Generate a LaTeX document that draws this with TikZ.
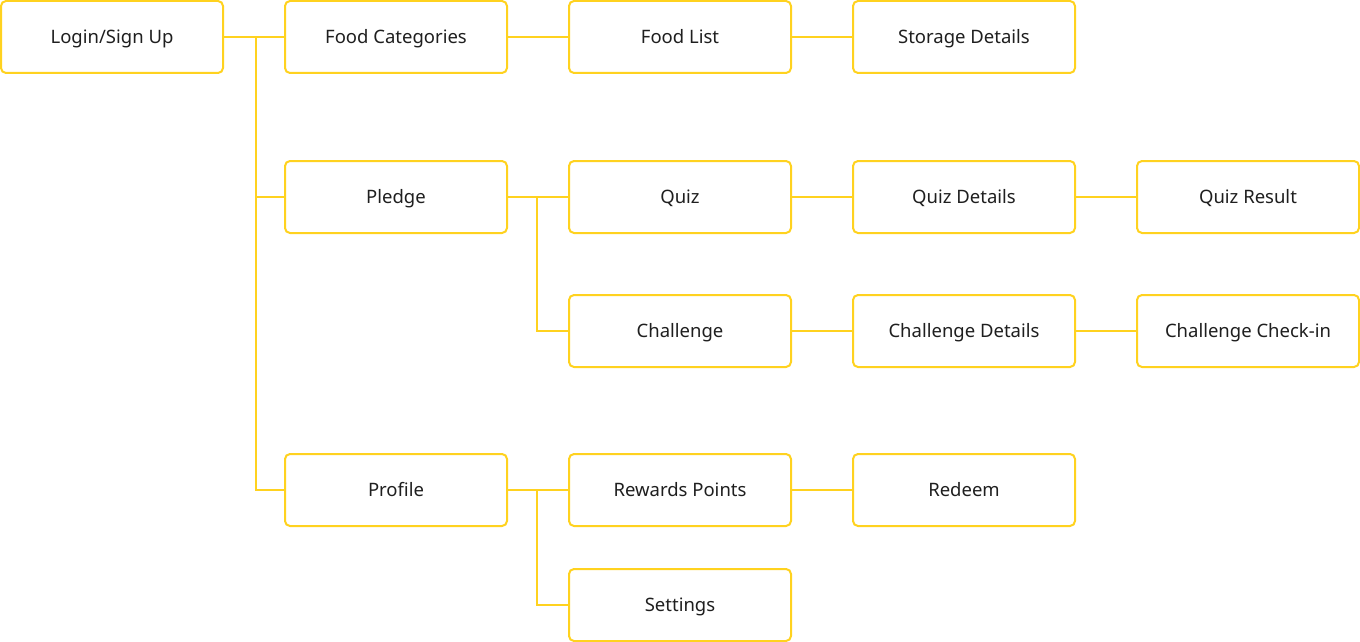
\documentclass[tikz,border=0pt]{standalone}
\usepackage{fontspec}
\setmainfont{Noto Sans}
\definecolor{sunny}{HTML}{FFD21F}
\definecolor{ink}{HTML}{1F1F1F}
\tikzstyle{screen} = [rectangle, rounded corners=5pt, minimum width=222pt, minimum height=72pt, text centered, text height=13.5pt, text depth=0pt, draw=sunny, line width=2pt, fill=white, text=ink, font=\fontsize{18.5}{22}\selectfont]
\tikzstyle{link} = [draw=sunny, line width=2pt]

\begin{document}
\begin{tikzpicture}[x=1pt, y=1pt, node distance=284pt]
\useasboundingbox (0,0) rectangle (1360,-642);

\node (login) [screen] at (112,-37) {Login/Sign Up};
\node (categories) [screen, right of=login] {Food Categories};
\node (foodlist) [screen, right of=categories] {Food List};
\node (storage) [screen, right of=foodlist] {Storage Details};

\node (pledge) [screen, node distance=160pt, below of=categories] {Pledge};
\node (quiz) [screen, right of=pledge] {Quiz};
\node (quizdetails) [screen, right of=quiz] {Quiz Details};
\node (quizresult) [screen, right of=quizdetails] {Quiz Result};
\node (challenge) [screen, node distance=134pt, below of=quiz] {Challenge};
\node (challengedetails) [screen, right of=challenge] {Challenge Details};
\node (checkin) [screen, right of=challengedetails] {Challenge Check-in};

\node (profile) [screen, node distance=293pt, below of=pledge] {Profile};
\node (rewards) [screen, right of=profile] {Rewards Points};
\node (redeem) [screen, right of=rewards] {Redeem};
\node (settings) [screen, node distance=115pt, below of=rewards] {Settings};

%%% forks %%%%%%%%%%%%%%%%%%%%%%%
\coordinate (spine) at (256,-37);
\coordinate (pledgefork) at (537,-197);
\coordinate (profilefork) at (537,-490);

%%% drawing %%%%%%%%%%%%%%%%%%%%%%%
\draw [link] (login) -- (categories);
\draw [link] (spine) |- (pledge);
\draw [link] (spine) |- (profile);
\draw [link] (categories) -- (foodlist);
\draw [link] (foodlist) -- (storage);
\draw [link] (pledge) -- (quiz);
\draw [link] (pledgefork) |- (challenge);
\draw [link] (quiz) -- (quizdetails);
\draw [link] (quizdetails) -- (quizresult);
\draw [link] (challenge) -- (challengedetails);
\draw [link] (challengedetails) -- (checkin);
\draw [link] (profile) -- (rewards);
\draw [link] (profilefork) |- (settings);
\draw [link] (rewards) -- (redeem);
\end{tikzpicture}
\end{document}
